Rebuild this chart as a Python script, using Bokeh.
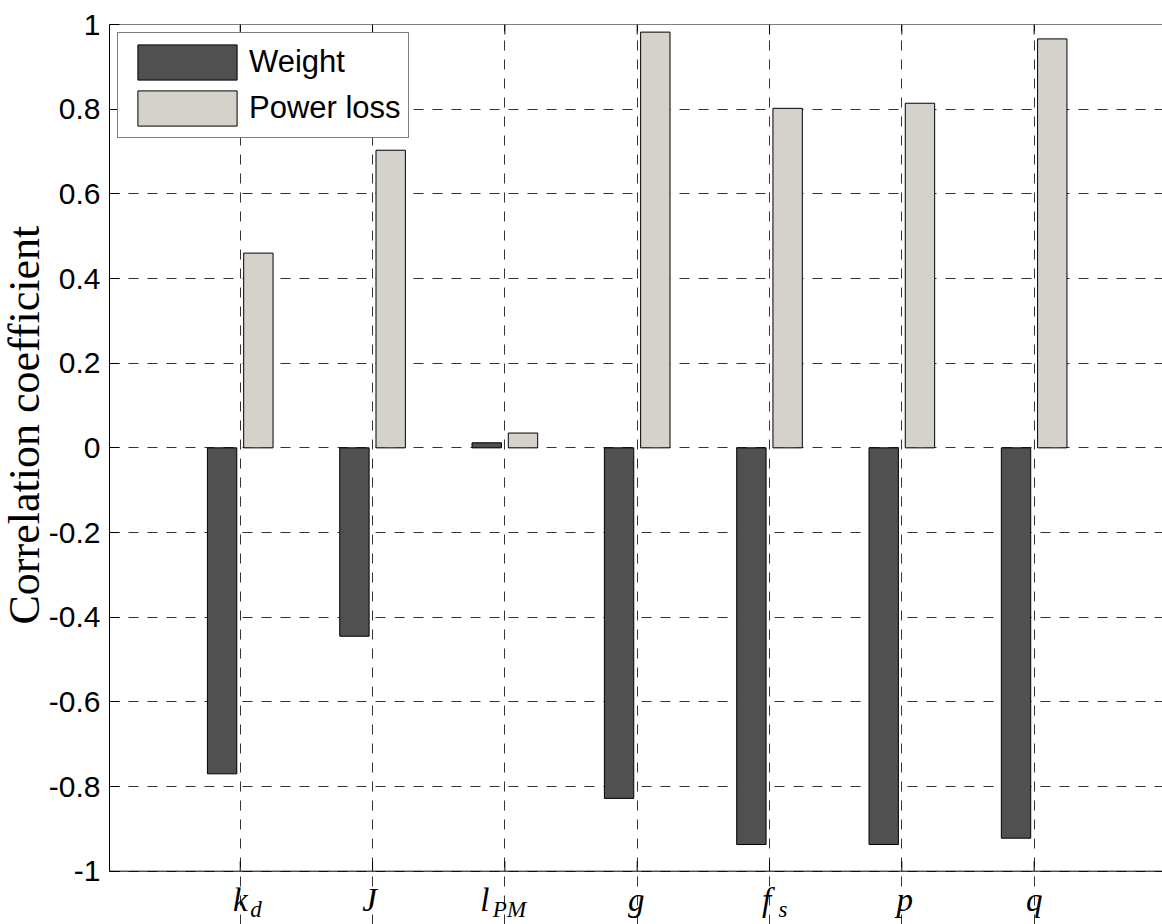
from bokeh.plotting import figure
from bokeh.models import Range1d, FixedTicker, Span, Legend, ColumnDataSource, Title
from bokeh.core.properties import value
from bokeh.embed import file_html
from bokeh.resources import INLINE

# ---- data ----
cat_pos = [1, 2, 3, 4, 5, 6, 7]
cat_main = ["k", "J", "l", "g", "f", "p", "q"]
cat_sub = ["d", "", "PM", "", "s", "", ""]
weight = [-0.77, -0.445, 0.012, -0.828, -0.937, -0.937, -0.922]
power_loss = [0.46, 0.703, 0.035, 0.982, 0.802, 0.814, 0.966]
y_ticks = [-1, -0.8, -0.6, -0.4, -0.2, 0, 0.2, 0.4, 0.6, 0.8, 1]
y_tick_labels = ["-1", "-0.8", "-0.6", "-0.4", "-0.2", "0", "0.2", "0.4", "0.6", "0.8", "1"]
y_title = "Correlation coefficient"

# ---- style ----
dark = "#505050"
light = "#d4d2cb"
bar_w = 0.222
off = 0.137
px = 1 / 423.35  # data units per pixel (vertical)

p = figure(width=1162, height=924, output_backend="svg", toolbar_location=None,
           x_range=Range1d(0.012, 7.97), y_range=Range1d(-1 - 53.3 * px, 1),
           min_border_left=106, min_border_right=0, min_border_top=24,
           min_border_bottom=0, background_fill_color="white",
           border_fill_color="white")
p.outline_line_color = None
p.xaxis.visible = False

xd = [c - off for c in cat_pos]
xl = [c + off for c in cat_pos]
r1 = p.vbar(x=xd, top=weight, bottom=0, width=bar_w, fill_color=dark,
            line_color="black", line_width=1)
r2 = p.vbar(x=xl, top=power_loss, bottom=0, width=bar_w, fill_color=light,
            line_color="black", line_width=1)

# y axis
p.yaxis.ticker = FixedTicker(ticks=y_ticks)
p.yaxis.bounds = (-1, 1)
p.yaxis.major_label_overrides = {t: s for t, s in zip(y_ticks, y_tick_labels)}
p.yaxis.major_label_text_font = "Liberation Sans"
p.yaxis.major_label_text_font_size = "30px"
p.yaxis.major_label_text_color = "black"
p.yaxis.major_label_standoff = 9
p.yaxis.major_tick_in = 10
p.yaxis.major_tick_out = 0
p.yaxis.minor_tick_line_color = None
p.yaxis.axis_line_color = "black"
p.yaxis.major_tick_line_color = "black"

# y title, starting near the bottom of the -1..1 span
p.add_layout(Title(text=y_title, align="left", offset=300, standoff=-6,
                   text_font="Liberation Serif", text_font_style="normal",
                   text_font_size="44px", text_color="black"), "left")

# bottom and top frame lines with inward ticks
p.add_layout(Span(location=-1, dimension="width", line_color="black", line_width=1))
p.add_layout(Span(location=1, dimension="width", line_color="black", line_width=1))
p.segment(x0=cat_pos, x1=cat_pos, y0=[-1] * 7, y1=[-1 + 10 * px] * 7,
          line_color="black", line_width=1)
p.segment(x0=cat_pos, x1=cat_pos, y0=[1] * 7, y1=[1 - 10 * px] * 7,
          line_color="black", line_width=1)

# grid
p.xgrid.ticker = FixedTicker(ticks=cat_pos)
p.xgrid.bounds = (-1, 1)
p.ygrid.ticker = FixedTicker(ticks=y_ticks)
for g in (p.xgrid, p.ygrid):
    g.grid_line_color = "#333333"
    g.grid_line_dash = "10 9"
    g.grid_line_width = 1

# legend
legend = Legend(items=[("Weight", [r1]), ("Power loss", [r2])], location="top_left")
legend.glyph_width = 124
legend.glyph_height = 44
legend.padding = 7
legend.spacing = 2
legend.margin = 8
legend.label_standoff = 0
legend.label_text_font = "Liberation Sans"
legend.label_text_font_size = "31px"
legend.label_text_color = "black"
legend.border_line_color = "black"
legend.border_line_width = 1
legend.background_fill_alpha = 1
p.add_layout(legend)

# category labels (italic serif with subscripts)
main_dx = [0, -3, -20, -1, -3, 3, 0]
sub_dx = [10, 0, -12, 0, 9, 0, 0]
lab = ColumnDataSource(dict(x=cat_pos, main=cat_main, sub=cat_sub,
                            mdx=main_dx, sdx=sub_dx,
                            ym=[-1 - 29.0 * px] * 7, ys=[-1 - 38.5 * px] * 7))
p.text(x="x", y="ym", text="main", x_offset="mdx", source=lab,
       text_align="center", text_baseline="alphabetic",
       text_font=value("Liberation Serif"), text_font_style="italic",
       text_font_size="33px", text_color="black")
p.text(x="x", y="ys", text="sub", x_offset="sdx", source=lab,
       text_align="left", text_baseline="alphabetic",
       text_font=value("Liberation Serif"), text_font_style="italic",
       text_font_size="23px", text_color="black")

open("out.html", "w").write(file_html(p, INLINE))
